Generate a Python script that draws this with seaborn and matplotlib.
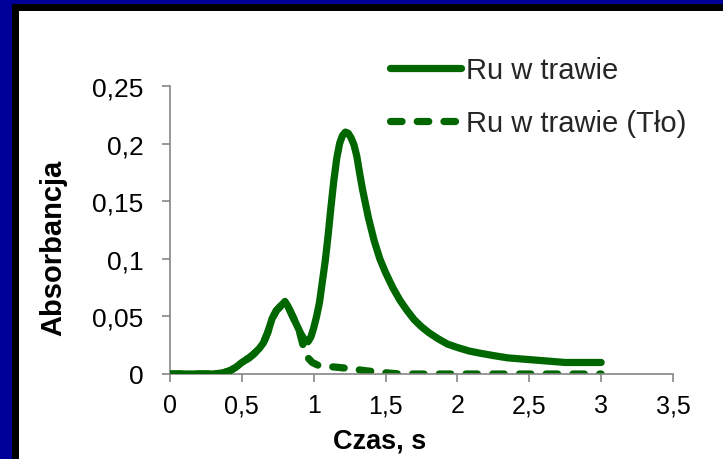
import matplotlib
matplotlib.use("Agg")
import matplotlib.pyplot as plt
from matplotlib.patches import Rectangle
from matplotlib.lines import Line2D
import seaborn as sns
import pandas as pd

# Measured absorbance traces (time in s)
czas_probka = [0.00, 0.10, 0.20, 0.30, 0.37, 0.42, 0.46, 0.50, 0.55, 0.58,
               0.62, 0.65, 0.68, 0.71, 0.74, 0.77, 0.80, 0.82, 0.85, 0.88,
               0.91, 0.94, 0.96, 0.98, 1.00, 1.02, 1.04, 1.06, 1.08, 1.10,
               1.12, 1.14, 1.16, 1.18, 1.20, 1.22, 1.24, 1.26, 1.28, 1.30,
               1.32, 1.34, 1.36, 1.38, 1.42, 1.46, 1.50, 1.55, 1.60, 1.65,
               1.70, 1.75, 1.80, 1.86, 1.93, 2.00, 2.08, 2.16, 2.25, 2.35,
               2.45, 2.55, 2.65, 2.75, 2.85, 3.00]
abs_probka = [0.000, 0.000, 0.000, 0.000, 0.001, 0.003, 0.006, 0.010, 0.014, 0.017,
              0.022, 0.027, 0.036, 0.048, 0.055, 0.059, 0.063, 0.059, 0.051, 0.043,
              0.035, 0.029, 0.028, 0.032, 0.040, 0.050, 0.062, 0.080, 0.098, 0.120,
              0.145, 0.168, 0.187, 0.200, 0.207, 0.210, 0.209, 0.205, 0.199, 0.189,
              0.174, 0.160, 0.148, 0.136, 0.116, 0.100, 0.088, 0.075, 0.064, 0.055,
              0.047, 0.041, 0.036, 0.031, 0.026, 0.023, 0.020, 0.018, 0.016, 0.014,
              0.013, 0.012, 0.011, 0.010, 0.010, 0.010]

czas_tlo = [0.00, 0.10, 0.20, 0.30, 0.37, 0.42, 0.46, 0.50, 0.55, 0.58,
            0.62, 0.65, 0.68, 0.71, 0.74, 0.77, 0.80, 0.82, 0.85, 0.88,
            0.90, 0.93, 0.96, 0.99, 1.04, 1.15, 1.23, 1.35, 1.46, 1.60,
            2.00, 2.50, 3.00]
abs_tlo = [0.000, 0.000, 0.000, 0.000, 0.001, 0.003, 0.006, 0.010, 0.014, 0.017,
           0.022, 0.027, 0.036, 0.048, 0.055, 0.059, 0.063, 0.059, 0.051, 0.043,
           0.037, 0.023, 0.014, 0.010, 0.007, 0.006, 0.005, 0.003, 0.0015, 0.000,
           0.000, 0.000, 0.000]

seria = ["Ru w trawie", "Ru w trawie (Tło)"]

x_ticks = [0, 0.5, 1, 1.5, 2, 2.5, 3, 3.5]
x_tick_labels = ["0", "0,5", "1", "1,5", "2", "2,5", "3", "3,5"]
y_ticks = [0, 0.05, 0.1, 0.15, 0.2, 0.25]
y_tick_labels = ["0", "0,05", "0,1", "0,15", "0,2", "0,25"]

df = pd.concat([
    pd.DataFrame({"Czas": czas_probka, "Abs": abs_probka, "Seria": seria[0]}),
    pd.DataFrame({"Czas": czas_tlo, "Abs": abs_tlo, "Seria": seria[1]}),
], ignore_index=True)

sns.set_theme(style="white")
plt.rcParams["font.family"] = ["Liberation Sans", "DejaVu Sans"]

green = "#006600"
navy = "#000099"
W, H = 723, 460

fig = plt.figure(figsize=(W / 100, H / 100), dpi=100, facecolor=navy)
# slide frame: black border and white panel
fig.patches.append(Rectangle((12 / W, 0), 1 - 12 / W, 1 - 5 / H,
                             transform=fig.transFigure, facecolor="black",
                             edgecolor="none", zorder=-2))
fig.patches.append(Rectangle((19 / W, 0), 1 - 19 / W, 1 - 12 / H,
                             transform=fig.transFigure, facecolor="white",
                             edgecolor="none", zorder=-1))

ax = fig.add_axes([170 / W, 85 / H, 503 / W, 288 / H])
ax.set_facecolor("none")

lw = 5.2
dash = (1.6, 2.1)
sns.lineplot(data=df, x="Czas", y="Abs", hue="Seria", style="Seria",
             palette={seria[0]: green, seria[1]: green},
             dashes={seria[0]: "", seria[1]: dash},
             linewidth=lw, legend=False, ax=ax, sort=False)
for i, ln in enumerate(ax.lines):
    ln.set_solid_capstyle("round")
    ln.set_dash_capstyle("round")
    ln.set_solid_joinstyle("round")
    ln.set_dash_joinstyle("round")
    ln.set_zorder(3 if i == 0 else 2)

ax.set_xlim(0, 3.5)
ax.set_ylim(0, 0.25)
ax.set_xticks(x_ticks)
ax.set_xticklabels(x_tick_labels)
ax.set_yticks(y_ticks)
ax.set_yticklabels(y_tick_labels)

spine_col = "#868686"
for side in ["top", "right"]:
    ax.spines[side].set_visible(False)
for side in ["left", "bottom"]:
    ax.spines[side].set_color(spine_col)
    ax.spines[side].set_linewidth(1.2)

ax.tick_params(axis="both", which="major", direction="out", length=6,
               width=1.2, color=spine_col, labelcolor="black")
ax.tick_params(axis="x", bottom=True, pad=8, labelsize=18)
ax.tick_params(axis="y", left=True, pad=13, labelsize=19)

ax.set_xlabel("Czas, s", fontsize=19.5, fontweight="bold", color="black")
ax.set_ylabel("Absorbancja", fontsize=21, fontweight="bold", color="black")
ax.xaxis.set_label_coords(0.4175, -0.187)
ax.yaxis.set_label_coords(-0.205, 0.443)

handles = [
    Line2D([], [], color=green, lw=lw, solid_capstyle="round"),
    Line2D([], [], color=green, lw=lw, dashes=dash, dash_capstyle="round"),
]
fig.legend(handles, seria, loc="upper left", bbox_to_anchor=(390 / W, 1 - 57 / H),
           frameon=False, fontsize=21, handlelength=2.45, handletextpad=0.17,
           labelspacing=0.85, borderpad=0, borderaxespad=0)

fig.savefig("out.png", dpi=100, facecolor=navy)
